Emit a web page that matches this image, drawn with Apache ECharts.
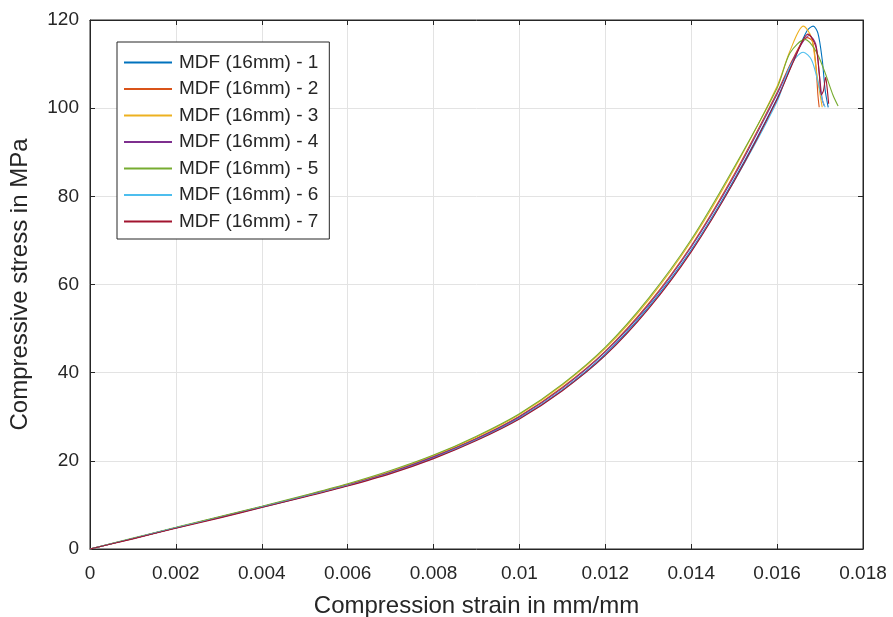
<!DOCTYPE html>
<html>
<head>
<meta charset="utf-8">
<script src="https://cdn.jsdelivr.net/npm/echarts@6/dist/echarts.min.js"></script>
<style>
  html, body { margin: 0; padding: 0; background: #fff; }
  #chart { width: 893px; height: 617px; }
</style>
</head>
<body>
<div id="chart"></div>
<script>
// series names and colours (MATLAB default order)
const seriesNames = ['MDF (16mm) - 1', 'MDF (16mm) - 2', 'MDF (16mm) - 3', 'MDF (16mm) - 4',
  'MDF (16mm) - 5', 'MDF (16mm) - 6', 'MDF (16mm) - 7']
const seriesColors = ['#0072BD', '#D95319', '#EDB120', '#7E2F8E', '#77AC30', '#4DBEEE', '#A2142F']

// strain points on the rising part (mm/mm)
const strainRise = [0, 0.001, 0.002, 0.003, 0.004, 0.005, 0.006, 0.007, 0.008,
  0.009, 0.010, 0.011, 0.012, 0.013, 0.014, 0.015, 0.016]

// stress on the rising part (MPa), one list per specimen
const stress1 = [0, 2.4, 4.8, 7.1, 9.5, 11.9, 14.4, 17.3, 20.7, 24.8, 29.7, 36.1, 44.2, 54.8, 67.8, 83.8, 102.2]
const stress2 = [0, 2.4, 4.8, 7.2, 9.6, 12.0, 14.6, 17.5, 21.0, 25.1, 30.1, 36.7, 44.9, 55.6, 68.8, 85.0, 103.6]
const stress3 = [0, 2.4, 4.8, 7.2, 9.6, 12.1, 14.7, 17.6, 21.2, 25.4, 30.5, 37.2, 45.5, 56.4, 69.8, 86.2, 105.0]
const stress4 = [0, 2.4, 4.8, 7.2, 9.6, 12.0, 14.5, 17.4, 20.9, 25.0, 30.0, 36.5, 44.7, 55.3, 68.5, 84.6, 103.2]
const stress5 = [0, 2.5, 4.9, 7.3, 9.7, 12.2, 14.8, 17.8, 21.3, 25.6, 30.7, 37.4, 45.8, 56.8, 70.2, 86.6, 104.6]
const stress6 = [0, 2.4, 4.8, 7.1, 9.5, 11.9, 14.4, 17.2, 20.6, 24.7, 29.6, 36.0, 44.0, 54.6, 67.6, 83.4, 101.5]
const stress7 = [0, 2.3, 4.7, 7.0, 9.4, 11.8, 14.3, 17.1, 20.5, 24.6, 29.5, 35.9, 43.9, 54.4, 67.4, 83.4, 102.0]

// peak and failure part, [strain, stress] pairs
const tail1 = [[0.0164, 111.2], [0.0167, 117.6], [0.01684, 118.6], [0.01695, 117.0], [0.01705, 111.0], [0.01712, 104.0], [0.01719, 100.2]]
const tail2 = [[0.0164, 111.8], [0.0167, 116.0], [0.01682, 115.2], [0.0169, 110.0], [0.01695, 103.0], [0.01698, 100.2]]
const tail3 = [[0.0163, 113.0], [0.01661, 118.6], [0.0168, 116.0], [0.01692, 108.0], [0.01705, 100.2]]
const tail4 = [[0.0164, 111.5], [0.01675, 116.5], [0.0169, 114.5], [0.01698, 108.0], [0.01705, 102.0], [0.0171, 100.5]]
const tail5 = [[0.0163, 112.5], [0.01665, 115.6], [0.0169, 113.0], [0.0171, 108.5], [0.0173, 103.0], [0.01742, 100.5]]
const tail6 = [[0.0163, 109.5], [0.01661, 112.7], [0.0168, 111.0], [0.01695, 106.0], [0.01705, 102.0], [0.01712, 100.2]]
const tail7 = [[0.0164, 111.0], [0.01672, 116.8], [0.0169, 114.0], [0.01698, 108.0], [0.01703, 103.0], [0.01708, 104.0], [0.01713, 107.0], [0.01716, 105.0], [0.0172, 101.0]]

// axis ticks
const xMin = 0, xMax = 0.018, xStep = 0.002
const yMin = 0, yMax = 120, yStep = 20

const stressLists = [stress1, stress2, stress3, stress4, stress5, stress6, stress7]
const tailLists = [tail1, tail2, tail3, tail4, tail5, tail6, tail7]

const chart = echarts.init(document.getElementById('chart'), null, { renderer: 'canvas' })

const textColor = '#262626'
const gridColor = '#e3e3e3'

// 刻度朝内，四边都有
const tickStyle = { show: true, inside: true, length: 5, lineStyle: { color: textColor, width: 1 } }

const option = {
  animation: false,
  backgroundColor: '#fff',
  textStyle: { fontFamily: 'Liberation Sans, Arial, sans-serif' },
  grid: {
    left: 90, right: 30, top: 20, bottom: 68,
    outerBoundsMode: 'none',
    containLabel: false,
    show: true, borderColor: textColor, borderWidth: 1, backgroundColor: 'transparent',
  },
  legend: {
    orient: 'vertical',
    left: 117, top: 42,
    padding: [11, 11, 8, 7],
    backgroundColor: '#fff',
    borderColor: textColor,
    borderWidth: 1,
    itemGap: 7.5,
    itemWidth: 48,
    itemHeight: 2,
    icon: 'rect',
    textStyle: { fontSize: 19, color: textColor, fontFamily: 'Liberation Sans, Arial, sans-serif', padding: [0, 0, 0, 2] },
    data: seriesNames,
  },
  xAxis: [
    {
      type: 'value', min: xMin, max: xMax, interval: xStep,
      name: 'Compression strain in mm/mm',
      nameLocation: 'middle', nameGap: 45,
      nameTextStyle: { fontSize: 24, color: textColor },
      axisLine: { show: true, onZero: false, lineStyle: { color: textColor, width: 1 } },
      axisTick: tickStyle,
      axisLabel: { fontSize: 19, color: textColor, margin: 15 },
      splitLine: { show: true, lineStyle: { color: gridColor, width: 1 } },
    },
    {
      type: 'value', min: xMin, max: xMax, interval: xStep, position: 'top',
      axisLine: { show: true, onZero: false, lineStyle: { color: textColor } },
      axisTick: tickStyle,
      axisLabel: { show: false },
      splitLine: { show: false },
    },
  ],
  yAxis: [
    {
      type: 'value', min: yMin, max: yMax, interval: yStep,
      name: 'Compressive stress in MPa',
      nameLocation: 'middle', nameGap: 58,
      nameTextStyle: { fontSize: 24, color: textColor },
      axisLine: { show: true, onZero: false, lineStyle: { color: textColor, width: 1 } },
      axisTick: tickStyle,
      axisLabel: { fontSize: 19, color: textColor, margin: 11 },
      splitLine: { show: true, lineStyle: { color: gridColor, width: 1 } },
    },
    {
      type: 'value', min: yMin, max: yMax, interval: yStep, position: 'right',
      axisLine: { show: true, onZero: false, lineStyle: { color: textColor } },
      axisTick: tickStyle,
      axisLabel: { show: false },
      splitLine: { show: false },
    },
  ],
  series: seriesNames.map((name, k) => ({
    name: name,
    type: 'line',
    xAxisIndex: 0,
    yAxisIndex: 0,
    symbol: 'none',
    smooth: 0.3,
    color: seriesColors[k],
    lineStyle: { color: seriesColors[k], width: 1.1 },
    data: strainRise.map((x, i) => [x, stressLists[k][i]]).concat(tailLists[k]),
  })),
}

chart.setOption(option)
</script>
</body>
</html>
